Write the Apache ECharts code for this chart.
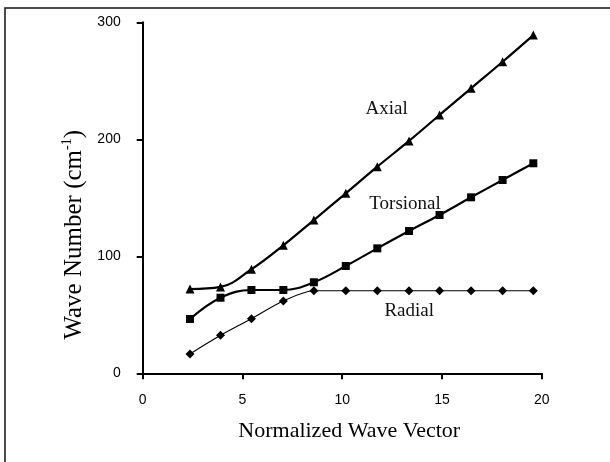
<!DOCTYPE html>
<html><head><meta charset="utf-8">
<script src="https://cdn.jsdelivr.net/npm/echarts@6/dist/echarts.min.js"></script>
<style>html,body{margin:0;padding:0;background:#fff}#c{width:610px;height:462px}</style>
</head><body><div id="c"></div>
<script>
const xValues = [2.37, 3.9, 5.45, 7.05, 8.58, 10.18, 11.76, 13.35, 14.88, 16.46, 18.04, 19.58];
const axial = [72, 73.8, 88.9, 109.4, 131, 153.8, 176.6, 198.6, 220.8, 243.6, 266.3, 289.1];
const torsional = [46.4, 64.6, 71.2, 71.2, 77.8, 91.7, 106.8, 121.6, 135.3, 150.4, 165.2, 179.5];
const radial = [16.5, 32.5, 46.7, 61.8, 70.6, 70.6, 70.6, 70.6, 70.6, 70.6, 70.6, 70.6];
const xTicks = [0, 5, 10, 15, 20];
const yTicks = [0, 100, 200, 300];
const seriesLabels = [
  {text: 'Axial', x: 12.23, y: 225.6},
  {text: 'Torsional', x: 13.15, y: 144.4},
  {text: 'Radial', x: 13.36, y: 53.2}
];

const pair = v => xValues.map((x, i) => [x, v[i]]);
const chart = echarts.init(document.getElementById('c'), null, {renderer: 'canvas'});
const serif = '"Liberation Serif", "Times New Roman", serif';
const sans = '"Liberation Sans", Arial, sans-serif';
const axisCommon = {
  axisLine: {show: true, onZero: false, lineStyle: {color: '#000', width: 2}},
  axisTick: {show: true, inside: false, length: 6, lineStyle: {color: '#000', width: 2}},
  splitLine: {show: false}
};
chart.setOption({
  animation: false,
  backgroundColor: '#fff',
  grid: {left: 142.7, right: 68.3, top: 22.3, bottom: 88.7},
  xAxis: Object.assign({}, axisCommon, {
    type: 'value', min: xTicks[0], max: xTicks[xTicks.length - 1], interval: 5,
    axisLabel: {color: '#000', fontFamily: sans, fontSize: 14, margin: 20},
    name: 'Normalized Wave Vector', nameLocation: 'middle', nameGap: 47,
    nameTextStyle: {color: '#000', fontFamily: serif, fontSize: 22, padding: [0, 0, 0, 14]}
  }),
  yAxis: Object.assign({}, axisCommon, {
    type: 'value', min: yTicks[0], max: yTicks[yTicks.length - 1], interval: 100,
    axisLabel: {color: '#000', fontFamily: sans, fontSize: 14, margin: 22},
    name: '{b|Wave Number (cm}{s|-1}{b|)}', nameLocation: 'middle', nameGap: 51,
    nameTextStyle: {color: '#000', fontFamily: serif, fontSize: 25, padding: [0, 74, 0, 0],
      rich: {b: {fontFamily: serif, fontSize: 25, color: '#000', lineHeight: 28},
             s: {fontFamily: serif, fontSize: 14, color: '#000', verticalAlign: 'top', lineHeight: 28, padding: [0, 0, 12, 0]}}}
  }),
  series: [
    {type: 'line', data: pair(axial), smooth: 0.4, symbol: 'triangle', symbolSize: 9,
     lineStyle: {color: '#000', width: 2.2}, itemStyle: {color: '#000'}},
    {type: 'line', data: pair(torsional), smooth: 0.4, symbol: 'rect', symbolSize: 8,
     lineStyle: {color: '#000', width: 2.2}, itemStyle: {color: '#000'}},
    {type: 'line', data: pair(radial), smooth: 0.3, symbol: 'diamond', symbolSize: 9,
     lineStyle: {color: '#000', width: 1.1}, itemStyle: {color: '#000'}}
  ]
});
const g = [{type: 'rect', shape: {x: 5, y: 8, width: 700, height: 600}, style: {fill: 'none', stroke: '#111', lineWidth: 1.5}, z: 100}];
seriesLabels.forEach(l => {
  const p = chart.convertToPixel({gridIndex: 0}, [l.x, l.y]);
  g.push({type: 'text', x: p[0], y: p[1], style: {text: l.text, fontFamily: serif, fontSize: 19, fill: '#111', align: 'center', verticalAlign: 'middle'}, z: 100});
});
chart.setOption({graphic: g});
</script></body></html>
